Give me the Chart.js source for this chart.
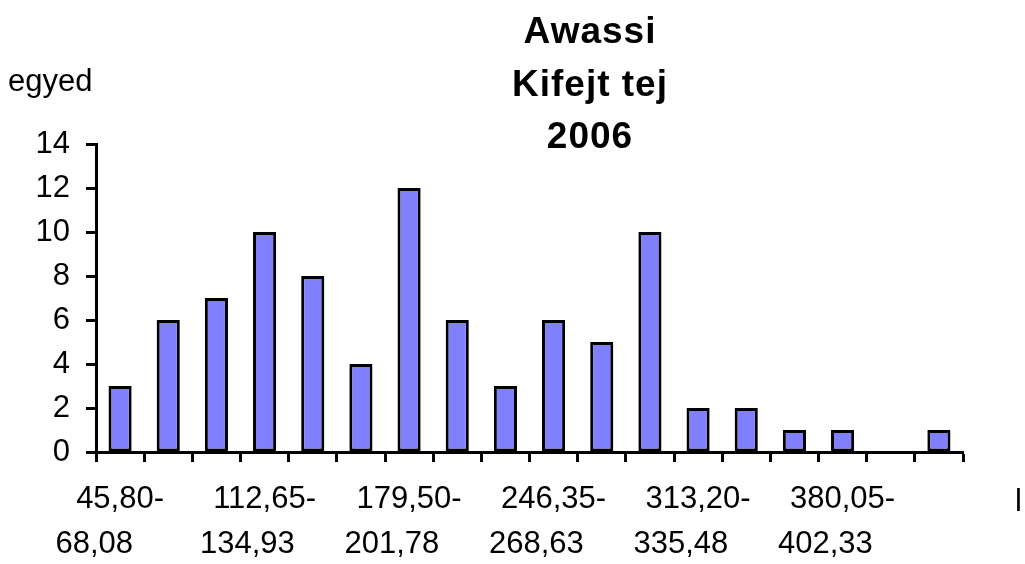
<!DOCTYPE html>
<html>
<head>
<meta charset="utf-8">
<title>Awassi – Kifejt tej 2006</title>
<script src="https://cdn.jsdelivr.net/npm/chart.js@4.4.1/dist/chart.umd.min.js"></script>
<style>
  html, body { margin: 0; padding: 0; background: #fff; overflow: hidden; }
  canvas { display: block; }
</style>
</head>
<body>
<canvas id="chart" width="1025" height="564"></canvas>
<script>
// Milk yield classes (litres) and number of ewes in each class
const binLabels = [
  "45,80-68,08", "68,08-90,37", "90,37-112,65",
  "112,65-134,93", "134,93-157,22", "157,22-179,50",
  "179,50-201,78", "201,78-224,07", "224,07-246,35",
  "246,35-268,63", "268,63-290,92", "290,92-313,20",
  "313,20-335,48", "335,48-357,77", "357,77-380,05",
  "380,05-402,33", "402,33-424,62", "424,62-446,90"
];
const counts = [3, 6, 7, 10, 8, 4, 12, 6, 3, 6, 5, 10, 2, 2, 1, 1, 0, 1];

const titleLines = ["Awassi", "Kifejt tej", "2006"];
const yAxisName = "egyed";
const xAxisName = "l";
const yMin = 0, yMax = 14, yStep = 2;
const labelEvery = 3;

const FONT = '"Liberation Sans", Arial, Helvetica, sans-serif';

// Title and axis names drawn as free text around the plot
const annotations = {
  id: 'annotations',
  afterDraw(chart) {
    const ctx = chart.ctx;
    ctx.save();
    ctx.fillStyle = '#000';
    ctx.textBaseline = 'alphabetic';

    ctx.font = 'bold 37px ' + FONT;
    ctx.textAlign = 'center';
    if ('letterSpacing' in ctx) ctx.letterSpacing = '1px';
    const baselines = [43, 96, 148];
    titleLines.forEach((t, i) => ctx.fillText(t, 590, baselines[i]));
    if ('letterSpacing' in ctx) ctx.letterSpacing = '0px';

    ctx.font = '31px ' + FONT;
    ctx.textAlign = 'left';
    ctx.fillText(yAxisName, 8, 91);
    ctx.fillText(xAxisName, 1015, 511);
    ctx.restore();
  }
};

new Chart(document.getElementById('chart'), {
  type: 'bar',
  data: {
    labels: binLabels,
    datasets: [{
      data: counts,
      backgroundColor: '#8080FF',
      borderColor: '#000000',
      borderWidth: 3,
      borderSkipped: false,
      categoryPercentage: 1,
      barPercentage: 0.48
    }]
  },
  options: {
    responsive: false,
    animation: false,
    devicePixelRatio: 1,
    layout: { padding: { left: 0, right: 62, top: 144, bottom: 0 } },
    plugins: {
      legend: { display: false },
      title: { display: false },
      tooltip: { enabled: false }
    },
    scales: {
      x: {
        offset: true,
        afterFit(scale) { scale.height = 112; },
        grid: {
          offset: true,
          drawOnChartArea: false,
          drawTicks: true,
          tickLength: 10,
          tickWidth: 3,
          tickColor: '#000',
          color: '#000'
        },
        border: { display: true, color: '#000', width: 3 },
        ticks: {
          autoSkip: false,
          maxRotation: 0,
          minRotation: 0,
          padding: 15,
          color: '#000',
          font: { family: FONT, size: 31, lineHeight: 1.45 },
          callback(value, index) {
            if (index % labelEvery !== 0) return '';
            const [from, to] = this.getLabelForValue(value).split('-');
            // second line is set flush-left under the first, as in the spreadsheet layout
            const digits = to.replace(/\D/g, '').length;
            return [from + '-', to + ' '.repeat(Math.max(0, 2 * (7 - digits)))];
          }
        }
      },
      y: {
        min: yMin,
        max: yMax,
        afterFit(scale) { scale.width = 96; },
        grid: {
          drawOnChartArea: false,
          drawTicks: true,
          tickLength: 10,
          tickWidth: 3,
          tickColor: '#000',
          color: '#000'
        },
        border: { display: true, color: '#000', width: 3 },
        ticks: {
          stepSize: yStep,
          padding: 16,
          color: '#000',
          font: { family: FONT, size: 31 }
        }
      }
    }
  },
  plugins: [annotations]
});
</script>
</body>
</html>
